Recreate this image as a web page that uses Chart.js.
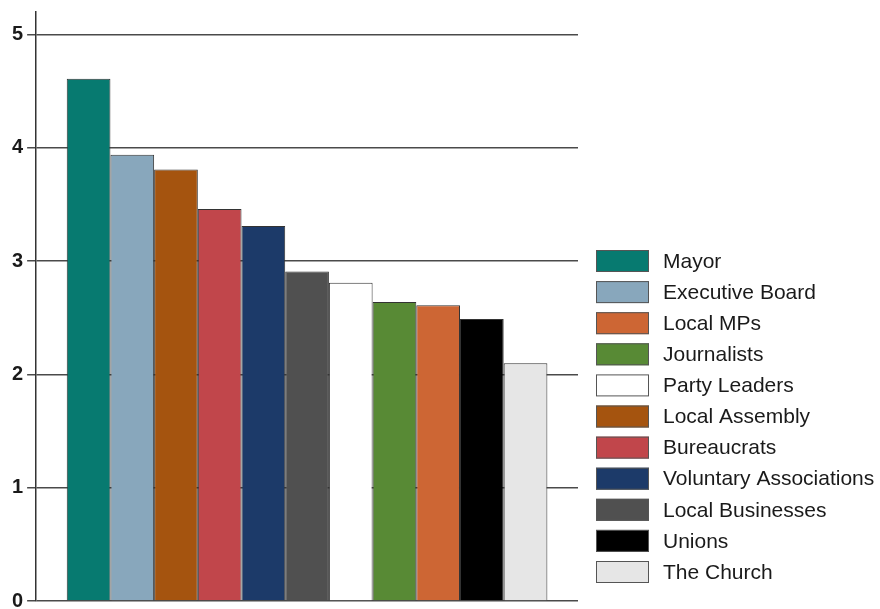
<!DOCTYPE html>
<html>
<head>
<meta charset="utf-8">
<script src="https://cdn.jsdelivr.net/npm/chart.js@4"></script>
<style>
  html, body { margin: 0; padding: 0; background: #fff; }
  #wrap { width: 880px; height: 609px; }
</style>
</head>
<body>
<div id="wrap"><canvas id="chart"></canvas></div>
<script>
// bar order (left to right)
const actors = ["Mayor", "Executive Board", "Local Assembly", "Bureaucrats", "Voluntary Associations",
  "Local Businesses", "Party Leaders", "Journalists", "Local MPs", "Unions", "The Church"];
const scores = [4.61, 3.94, 3.81, 3.46, 3.31, 2.91, 2.81, 2.64, 2.61, 2.49, 2.10];
const colors = ["#077a70", "#88a7bc", "#a5540f", "#c1464b", "#1c3a69",
  "#505050", "#ffffff", "#588a35", "#cd6634", "#000000", "#e6e6e6"];
// legend order is different from bar order
const legendOrder = ["Mayor", "Executive Board", "Local MPs", "Journalists", "Party Leaders",
  "Local Assembly", "Bureaucrats", "Voluntary Associations", "Local Businesses", "Unions", "The Church"];
const yTicks = [0, 1, 2, 3, 4, 5];

const FONT = "'Liberation Sans', Arial, sans-serif";

const datasets = actors.map((name, i) => ({
  label: name,
  data: [scores[i]],
  backgroundColor: colors[i],
  borderColor: "#333",
  borderWidth: 1,
  categoryPercentage: 0.887,
  barPercentage: 1.0
}));

// the built-in legend gets squeezed to a quarter of the width, so draw it here
const sideLegend = {
  id: "sideLegend",
  afterDraw(chart) {
    const ctx = chart.ctx;
    const x0 = chart.chartArea.right + 18;
    let y = 250;
    ctx.save();
    ctx.font = "21px " + FONT;
    ctx.textBaseline = "middle";
    ctx.textAlign = "left";
    legendOrder.forEach((name) => {
      const ds = chart.data.datasets.find(d => d.label === name);
      ctx.fillStyle = ds.backgroundColor;
      ctx.fillRect(x0, y, 53, 22);
      ctx.strokeStyle = "#555";
      ctx.lineWidth = 1;
      ctx.strokeRect(x0 + 0.5, y + 0.5, 52, 21);
      ctx.fillStyle = "#1a1a1a";
      ctx.fillText(name, x0 + 67, y + 12);
      y += 31.1;
    });
    ctx.restore();
  }
};

new Chart(document.getElementById("chart"), {
  type: "bar",
  data: { labels: [""], datasets: datasets },
  plugins: [sideLegend],
  options: {
    responsive: true,
    maintainAspectRatio: false,
    animation: false,
    layout: { padding: { top: 12, left: 8, right: 302, bottom: 8 } },
    plugins: {
      tooltip: { enabled: false },
      legend: { display: false }
    },
    scales: {
      x: { display: false },
      y: {
        min: 0,
        max: 5.2,
        afterBuildTicks: (scale) => {
          scale.ticks = yTicks.map(v => ({ value: v }));
        },
        afterFit: (scale) => {
          // let the "0" label hang below the plot like in the original
          scale.paddingTop = 0;
          scale.paddingBottom = 0;
        },
        border: { display: true, color: "#333", width: 1.5 },
        grid: { color: "#4a4a4a", lineWidth: 1.5, tickLength: 9, drawTicks: true },
        ticks: {
          padding: 4,
          color: "#1a1a1a",
          font: { family: FONT, size: 20, weight: "bold" }
        }
      }
    }
  }
});
</script>
</body>
</html>
